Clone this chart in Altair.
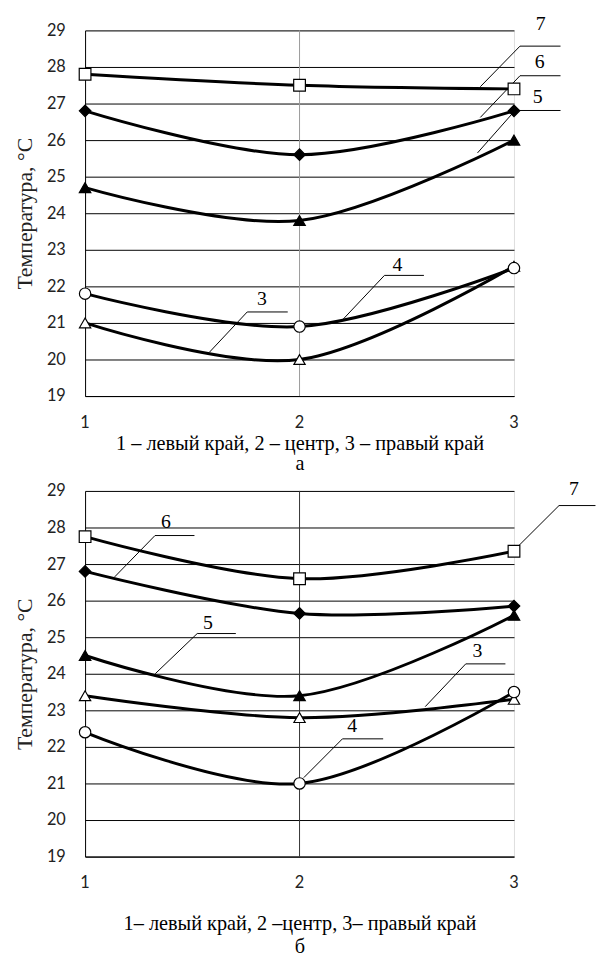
import altair as alt
import pandas as pd

positions = [1, 2, 3]
position_labels = ["1", "2", "3"]
y_ticks = list(range(19, 30))
curve_names = ["3", "4", "5", "6", "7"]

# panel а
a_curve3 = [21.0, 20.0, 22.55]
a_curve4 = [21.8, 20.9, 22.5]
a_curve5 = [24.7, 23.8, 26.0]
a_curve6 = [26.8, 25.6, 26.8]
a_curve7 = [27.8, 27.5, 27.4]

# panel б
b_curve3 = [23.4, 22.8, 23.3]
b_curve4 = [22.4, 21.0, 23.5]
b_curve5 = [24.5, 23.4, 25.6]
b_curve6 = [26.8, 25.65, 25.85]
b_curve7 = [27.75, 26.6, 27.35]

# callout labels (data coordinates)
a_lab_text = ["7", "6", "5", "4", "3"]
a_lab_x = [3.124, 3.12, 3.11, 2.456, 1.825]
a_lab_y = [29.16, 28.14, 27.19, 22.59, 21.65]
a_shelf_x1 = [3.028, 3.028, 3.005, 2.396, 1.756]
a_shelf_x2 = [3.217, 3.217, 3.217, 2.58, 1.945]
a_shelf_y = [28.57, 27.76, 26.81, 22.3, 21.3]
a_end_x = [2.843, 2.843, 2.83, 2.203, 1.58]
a_end_y = [27.46, 26.62, 25.65, 21.1, 20.2]

b_lab_text = ["7", "6", "5", "3", "4"]
b_lab_x = [3.28, 1.377, 1.573, 2.83, 2.246]
b_lab_y = [29.05, 28.14, 25.38, 24.62, 22.57]
b_shelf_x1 = [3.21, 1.326, 1.523, 2.775, 2.2]
b_shelf_x2 = [3.38, 1.51, 1.703, 2.96, 2.39]
b_shelf_y = [28.6, 27.78, 25.1, 24.27, 22.22]
b_end_x = [3.02, 1.138, 1.327, 2.586, 2.02]
b_end_y = [27.49, 26.65, 24.0, 23.1, 21.16]

center_position = [2]
y_floor = 19

marker_shapes = ["triangle-up", "circle", "triangle-up", "diamond", "square"]
marker_fills = ["white", "white", "black", "black", "white"]
marker_sizes = [130, 140, 120, 100, 150]

SERIF = "Liberation Serif"
SANS = "Lato"


def panel(curves, lab_text, lab_x, lab_y, sx1, sx2, sy, ex, ey,
          x_title, title_pad, line_h, mid_grid):
    rows = []
    for name, vals in zip(curve_names, curves):
        for p, v in zip(positions, vals):
            rows.append({"x": p, "y": v, "curve": name})
    df = pd.DataFrame(rows)

    segs = []
    for i in range(len(lab_text)):
        segs.append({"x": sx1[i], "y": sy[i], "x2": sx2[i], "y2": sy[i]})
        segs.append({"x": sx1[i], "y": sy[i], "x2": ex[i], "y2": ey[i]})
    seg_df = pd.DataFrame(segs)
    lab_df = pd.DataFrame({"x": lab_x, "y": lab_y, "t": lab_text})
    mid_df = pd.DataFrame({"x": center_position})
    tick_df = pd.DataFrame({"x": positions, "y": [y_floor] * len(positions),
                            "t": position_labels})

    xs = alt.Scale(domain=[1, 3], nice=False, zero=False)
    ys = alt.Scale(domain=[19, 29], nice=False, zero=False)
    xax = alt.Axis(values=positions, title=x_title, ticks=False, labels=False,
                   titleFont=SERIF, titleFontSize=20.5,
                   titleFontWeight="normal", titleColor="black",
                   titlePadding=title_pad, titleLineHeight=line_h,
                   domainColor="black", grid=False)
    yax = alt.Axis(values=y_ticks, format="d", title="Температура, °С", ticks=False,
                   labelPadding=20, labelFont=SANS, labelFontSize=16.5, labelColor="#222",
                   labelOverlap=False, labelFlush=False,
                   titleFont=SERIF, titleFontSize=22, titleFontWeight="normal",
                   titleColor="#222", titlePadding=10, domainColor="black",
                   grid=True, gridColor="black", gridWidth=1)

    X = alt.X("x:Q", scale=xs, axis=xax)
    Y = alt.Y("y:Q", scale=ys, axis=yax)

    mid = alt.Chart(mid_df).mark_rule(color=mid_grid, strokeWidth=1).encode(x=X)
    lines = alt.Chart(df).mark_line(color="black", strokeWidth=3,
                                    interpolate="cardinal", tension=0).encode(
        x=X, y=Y, detail="curve:N")
    pts = alt.Chart(df).mark_point(filled=True, stroke="black", strokeWidth=1.2,
                                   opacity=1).encode(
        x=X, y=Y,
        shape=alt.Shape("curve:N", scale=alt.Scale(domain=curve_names, range=marker_shapes), legend=None),
        fill=alt.Fill("curve:N", scale=alt.Scale(domain=curve_names, range=marker_fills), legend=None),
        size=alt.Size("curve:O", scale=alt.Scale(domain=curve_names, range=marker_sizes), legend=None),
    )
    rules = alt.Chart(seg_df).mark_rule(color="black", strokeWidth=1).encode(
        x=X, y=Y, x2="x2:Q", y2="y2:Q")
    texts = alt.Chart(lab_df).mark_text(font=SERIF, fontSize=20, color="black",
                                        align="center", baseline="middle").encode(
        x=X, y=Y, text="t:N")
    ticks = alt.Chart(tick_df).mark_text(font=SANS, fontSize=16.5, color="#222",
                                         align="center", baseline="top", dy=19).encode(
        x=X, y=Y, text="t:N")
    return alt.layer(mid, lines, rules, pts, texts, ticks).properties(width=434, height=370)


top = panel([a_curve3, a_curve4, a_curve5, a_curve6, a_curve7],
            a_lab_text, a_lab_x, a_lab_y, a_shelf_x1, a_shelf_x2, a_shelf_y, a_end_x, a_end_y,
            ["1 – левый край, 2 – центр, 3 –  правый край", "а"], 38, 20, "#999999")
bottom = panel([b_curve3, b_curve4, b_curve5, b_curve6, b_curve7],
               b_lab_text, b_lab_x, b_lab_y, b_shelf_x1, b_shelf_x2, b_shelf_y, b_end_x, b_end_y,
               ["1– левый край, 2 –центр, 3– правый край", "б"], 58, 23, "#333333")

chart = alt.vconcat(top, bottom, spacing=4).properties(
    padding={"left": 5, "top": 0, "right": 0, "bottom": 0}
).configure_view(stroke="black", strokeWidth=1).configure(background="white")

chart.save("out.html", embed_options={"renderer": "svg", "actions": False})
